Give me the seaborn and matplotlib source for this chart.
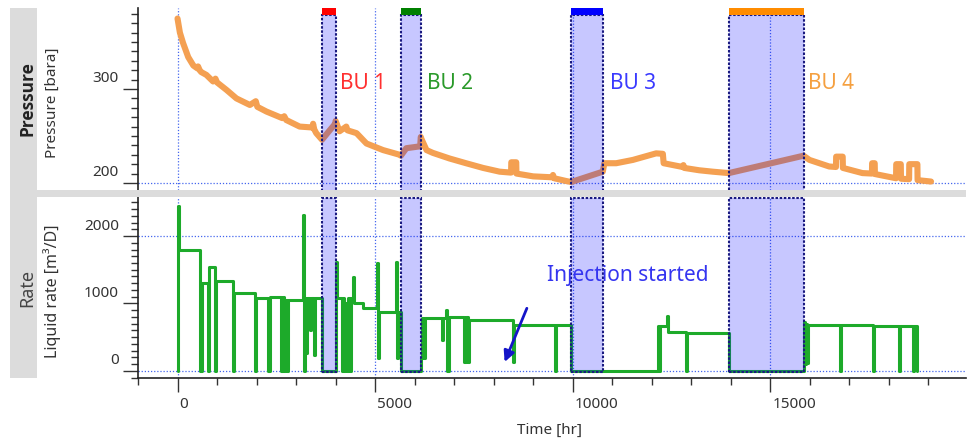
import matplotlib
matplotlib.use("Agg")
import matplotlib.pyplot as plt
import numpy as np
import pandas as pd
import seaborn as sns
from matplotlib.patches import Rectangle
from matplotlib.ticker import FixedLocator, MultipleLocator
from matplotlib.transforms import ScaledTranslation

# ---------------- data ----------------
bu_labels = ["BU 1", "BU 2", "BU 3", "BU 4"]
bu_start = [3650, 5650, 9960, 13950]
bu_end = [4000, 6150, 10760, 15840]
bu_bar_colors = ["#FF0000", "#008000", "#0000FF", "#FF8C00"]
bu_text_colors = ["#FF3030", "#2A9A2A", "#3A3AFF", "#F5A040"]
bu_label_time = [4110, 6310, 10930, 15960]
bu_label_pressure = [306, 306, 306, 306]

p_time = [0, 60, 140, 270, 400, 500, 520, 560, 600, 730, 900, 960, 1000, 1240,
          1490, 1830, 1980, 2020, 2250, 2650, 2700, 2750, 3090, 3420, 3430, 3460,
          3510, 3656, 3850, 3990, 4000, 4100, 4270, 4300, 4530, 4780, 5200, 5620,
          5650, 5790, 6140, 6155, 6170, 6300, 6460, 6885, 7300, 7730, 8150, 8440,
          8445, 8570, 8575, 9000, 9490, 9500, 9530, 9840, 9960, 10760, 10800,
          11100, 11520, 12110, 12280, 12300, 12780, 12800, 12820, 13200, 13540,
          13950, 15840, 15990, 16490, 16660, 16665, 16830, 16835, 17330, 17570,
          17575, 17640, 17645, 18180, 18185, 18300, 18305, 18510, 18515, 18720,
          18725, 19065]
p_value = [375, 360, 349, 334, 325, 322, 324, 320, 318, 315, 308, 311, 307, 299,
           290, 283, 287, 281, 276, 269, 271, 267, 260, 259, 263, 257,
           253, 246, 256, 263, 266, 255, 260, 256, 253, 242, 235, 230,
           229, 237, 239, 249, 247, 235, 232, 226, 221, 216, 212, 211,
           222, 222, 210, 207, 206, 208.5, 205, 202, 201, 212, 221,
           221, 224.5, 231.5, 231, 221, 217, 219, 216, 213.5, 212,
           210.5, 229, 224.5, 217.5, 217, 228, 228, 216, 210.5, 210,
           221, 221, 209.5, 205, 220, 220, 204.5, 204, 220, 220,
           203, 201.5]

r_time = [0, 10, 40, 580, 610, 760, 790, 940, 970, 1400, 1440, 1950, 1990, 2290,
          2330, 2630, 2660, 2700, 2730, 2760, 2790, 3170, 3200, 3230, 3250, 3270,
          3340, 3370, 3460, 3490, 3650, 4000, 4040, 4150, 4180, 4220, 4250, 4290,
          4320, 4360, 4390, 4440, 4470, 4690, 5050, 5080, 5110, 5530, 5560, 5590,
          5650, 6150, 6180, 6220, 6250, 6680, 6720, 6790, 6830, 6860, 7260, 7300,
          7340, 7380, 8480, 8520, 9550, 9580, 9960, 12150, 12180, 12210, 12380,
          12410, 12870, 12900, 13950, 15840, 15870, 15900, 15930, 15960, 16750,
          16780, 17590, 17620, 18260, 18290, 18600, 18630, 18700]
r_value = [0, 2440, 1790, 0, 1300, 0, 1540, 0, 1330, 0, 1150, 0, 1080, 0,
           1100, 0, 1100, 0, 1050, 0, 1050, 2310, 0, 1080, 270, 1080,
           600, 1080, 240, 1080, 0, 1620, 1080, 0, 1080, 0, 1000, 0,
           1080, 0, 1080, 1390, 1000, 940, 1600, 190, 880, 1620, 190, 880,
           0, 190, 780, 190, 780, 460, 780, 910, 0, 800, 140, 800,
           140, 760, 140, 680, 0, 680, 0, 660, 0, 660, 815,
           580, 0, 560, 0, 730, 110, 700, 120, 680, 0,
           680, 0, 665, 0, 665, 0, 665, 0]

x_ticks = [0, 5000, 10000, 15000]
p_ticks = [200, 300]
r_ticks = [0, 1000, 2000]
p_grid = [200]
r_grid = [0, 2000]

injection_text = "Injection started"
injection_pos = (9340, 1422)
arrow_from = (8839, 929)
arrow_to = (8276, 133)

# ---------------- style ----------------
sns.set_style("white")
plt.rcParams["font.family"] = ["Noto Sans", "DejaVu Sans"]

W, H = 970, 442
fig = plt.figure(figsize=(W / 100, H / 100), dpi=100)


def box(x0, y0, x1, y1):
    return [x0 / W, 1 - y1 / H, (x1 - x0) / W, (y1 - y0) / H]


GRAY = "#DCDCDC"
fig.patches.append(Rectangle((10 / W, 1 - 378 / H), 27 / W, 370 / H,
                             transform=fig.transFigure, facecolor=GRAY,
                             edgecolor="none", zorder=0))
fig.patches.append(Rectangle((10 / W, 1 - 197 / H), (966 - 10) / W, 7 / H,
                             transform=fig.transFigure, facecolor=GRAY,
                             edgecolor="none", zorder=0))

ax_p = fig.add_axes(box(138, 8, 966, 190))
ax_r = fig.add_axes(box(138, 197, 966, 378))

press_df = pd.DataFrame({"Time": p_time, "Pressure": p_value})
rate_df = pd.DataFrame({"Time": r_time, "Rate": r_value})

sns.lineplot(data=press_df, x="Time", y="Pressure", ax=ax_p, estimator=None,
             sort=False, color="#F4A052", linewidth=4.4, zorder=2)
sns.lineplot(data=rate_df, x="Time", y="Rate", ax=ax_r, estimator=None,
             sort=False, drawstyle="steps-post", color="#1DAA2A",
             linewidth=2.2, zorder=2)

GRID_KW = dict(color="#4466EE", linewidth=0.9, linestyle=(0, (1, 1.5)), zorder=1)
for ax in (ax_p, ax_r):
    for xv in x_ticks:
        ax.axvline(xv, **GRID_KW)
for yv in p_grid:
    ax_p.axhline(yv, **GRID_KW)
for yv in r_grid:
    ax_r.axhline(yv, **GRID_KW)

# build-up periods
for s, e, bc, lab, tc, lt, lp in zip(bu_start, bu_end, bu_bar_colors, bu_labels,
                                     bu_text_colors, bu_label_time, bu_label_pressure):
    ax_p.add_patch(Rectangle((s, 150), e - s, 379 - 150, facecolor=(0, 0, 1, 0.22),
                             edgecolor="#1A1A80", linewidth=1.5,
                             linestyle=(0, (1.2, 0.8)), zorder=3))
    ax_p.add_patch(Rectangle((s, 379), e - s, 7.5, facecolor=bc, edgecolor="none",
                             clip_on=False, zorder=4))
    ax_r.add_patch(Rectangle((s, -10), e - s, 2560 + 10, facecolor=(0, 0, 1, 0.22),
                             edgecolor="#1A1A80", linewidth=1.5,
                             linestyle=(0, (1.2, 0.8)), zorder=3))
    ax_p.text(lt, lp, lab, color=tc, fontsize=15, ha="left", va="center", zorder=5)

ax_r.text(injection_pos[0], injection_pos[1], injection_text, color="#3535F0",
          fontsize=15, ha="left", va="center", zorder=5)
ax_r.annotate("", xy=arrow_to, xytext=arrow_from,
              arrowprops=dict(arrowstyle="-|>", color="#1515C8", lw=2,
                              mutation_scale=16, shrinkA=0, shrinkB=0), zorder=6)

# axes formatting
TICKC = "#333333"
for ax in (ax_p, ax_r):
    ax.set_xlim(-1000, 19950)
    ax.xaxis.set_major_locator(FixedLocator(x_ticks))
    ax.xaxis.set_minor_locator(MultipleLocator(1000))
    for sname in ("top", "right"):
        ax.spines[sname].set_visible(False)
    ax.spines["left"].set_color("#222222")
    ax.spines["left"].set_linewidth(1.2)
    ax.tick_params(axis="y", which="major", length=10.8, width=1.0, pad=3,
                   labelsize=11, color=TICKC, labelcolor=TICKC, left=True)
    ax.tick_params(axis="y", which="minor", length=5.4, width=1.0, color=TICKC, left=True)
    ax.set_facecolor("white")

ax_p.spines["bottom"].set_visible(False)
ax_p.tick_params(axis="x", which="both", bottom=False, labelbottom=False)
ax_p.set_ylim(192.5, 386.2)
ax_p.yaxis.set_major_locator(FixedLocator(p_ticks))
ax_p.yaxis.set_minor_locator(MultipleLocator(10))
ax_p.set_xlabel("")
ax_p.set_ylabel("Pressure [bara]", fontsize=11, color="#333333", va="center")
ax_p.yaxis.set_label_coords((52 - 138) / 828, (190 - 103) / 182)

ax_r.set_ylim(-104, 2578)
ax_r.yaxis.set_major_locator(FixedLocator(r_ticks))
ax_r.yaxis.set_minor_locator(MultipleLocator(100))
ax_r.spines["bottom"].set_color("#222222")
ax_r.spines["bottom"].set_linewidth(1.2)
ax_r.tick_params(axis="x", which="major", length=10, width=1.0, pad=4,
                 labelsize=11, color=TICKC, labelcolor=TICKC, bottom=True)
ax_r.tick_params(axis="x", which="minor", length=5, width=1.0, color=TICKC, bottom=True)
ax_r.set_ylabel("Liquid rate [m³/D]", fontsize=11.5, color="#333333", va="center")
ax_r.yaxis.set_label_coords((52 - 138) / 828, (378 - 291) / 181)
ax_r.set_xlabel("Time [hr]", fontsize=11, color="#333333", va="center")
ax_r.xaxis.set_label_coords((550 - 138) / 828, (378 - 430) / 181)

# software-style label offsets: y labels sit above their ticks, x labels right of ticks
up = ScaledTranslation(0, 12 / 100, fig.dpi_scale_trans)
right = ScaledTranslation(2 / 100, 0, fig.dpi_scale_trans)
for ax in (ax_p, ax_r):
    for t in ax.yaxis.get_major_ticks():
        t.label1.set_transform(t.label1.get_transform() + up)
for t in ax_r.xaxis.get_major_ticks():
    t.label1.set_transform(t.label1.get_transform() + right)
    t.label1.set_horizontalalignment("left")

fig.text(27 / W, 1 - 99 / H, "Pressure", rotation=90, ha="center", va="center",
         fontsize=12.5, fontweight="bold", color="#222222",
         family=["Open Sans", "DejaVu Sans"])
fig.text(27 / W, 1 - 288 / H, "Rate", rotation=90, ha="center", va="center",
         fontsize=13, color="#444444")

fig.savefig("out.png", dpi=100, facecolor="white")
